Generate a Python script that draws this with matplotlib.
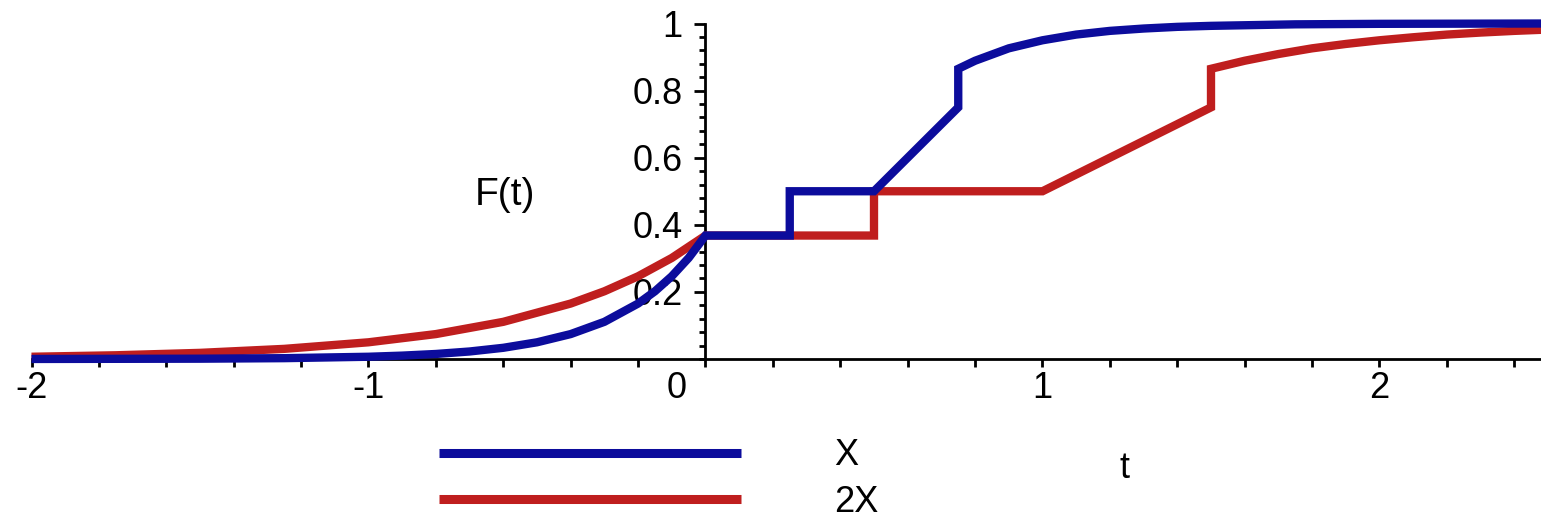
import matplotlib
matplotlib.use("Agg")
import matplotlib.pyplot as plt
from matplotlib.ticker import MultipleLocator, FixedLocator
import matplotlib.transforms as mtransforms

# ---- data ----
t_X = [-2, -1.5, -1.25, -1, -0.9, -0.8, -0.7, -0.6, -0.5, -0.4, -0.3, -0.2, -0.15,
       -0.1, -0.05, 0, 0.25, 0.25, 0.5, 0.75, 0.75, 0.8, 0.9, 1.0, 1.1, 1.2, 1.3,
       1.4, 1.5, 1.75, 2.0, 2.5]
F_X = [0.0001, 0.0009, 0.0025, 0.0067, 0.0101, 0.0150, 0.0224, 0.0334, 0.0498,
       0.0743, 0.1108, 0.1653, 0.2019, 0.2466, 0.3012, 0.368, 0.368, 0.5, 0.5,
       0.75, 0.865, 0.889, 0.926, 0.950, 0.967, 0.978, 0.985, 0.990, 0.993,
       0.9975, 0.999, 1.0]

t_2X = [-2, -1.75, -1.5, -1.25, -1, -0.8, -0.6, -0.4, -0.3, -0.2, -0.1, 0, 0.5,
        0.5, 1.0, 1.5, 1.5, 1.6, 1.7, 1.8, 1.9, 2.0, 2.1, 2.2, 2.3, 2.4, 2.5]
F_2X = [0.0067, 0.0111, 0.0183, 0.0302, 0.0498, 0.0743, 0.1108, 0.1653, 0.2019,
        0.2466, 0.3012, 0.368, 0.368, 0.5, 0.5, 0.75, 0.865, 0.889, 0.909, 0.926,
        0.939, 0.950, 0.959, 0.967, 0.973, 0.978, 0.982]

x_major = [-2, -1, 0, 1, 2]
x_labels = ["-2", "-1", "0", "1", "2"]
y_major = [0.2, 0.4, 0.6, 0.8, 1.0]
y_labels = ["0.2", "0.4", "0.6", "0.8", "1"]
series_labels = ["X", "2X"]
blue = "#0C0C9C"
red = "#BF1E1E"

plt.rcParams["font.family"] = ["Liberation Sans", "DejaVu Sans"]
FS = 26

W, H = 1541, 520
fig = plt.figure(figsize=(W / 100, H / 100), dpi=100)
px_unit_x = 337.0
left_px = 31.5
y0_px, y1_px = 359.0, 23.5
ax = fig.add_axes([left_px / W, (H - y0_px) / H, 4.5 * px_unit_x / W, (y0_px - y1_px) / H])
ax.set_xlim(-2, 2.5)
ax.set_ylim(0, 1)

lw = 6
ax.plot(t_2X, F_2X, color=red, lw=lw, solid_joinstyle="miter", solid_capstyle="butt",
        label=series_labels[1], clip_on=False, zorder=3)
ax.plot(t_X, F_X, color=blue, lw=lw, solid_joinstyle="miter", solid_capstyle="butt",
        label=series_labels[0], clip_on=False, zorder=4)

for s in ["top", "right"]:
    ax.spines[s].set_visible(False)
ax.spines["left"].set_position(("data", 0))
ax.spines["bottom"].set_position(("data", 0))
for s in ["left", "bottom"]:
    ax.spines[s].set_linewidth(2)
    ax.spines[s].set_zorder(2)

ax.xaxis.set_major_locator(FixedLocator(x_major))
ax.set_xticklabels(x_labels)
ax.xaxis.set_minor_locator(MultipleLocator(0.2))
ax.yaxis.set_major_locator(FixedLocator(y_major))
ax.set_yticklabels(y_labels)
ax.yaxis.set_minor_locator(MultipleLocator(0.04))

ax.tick_params(axis="x", which="both", direction="out", length=6, width=2,
               labelsize=FS, pad=3)
ax.tick_params(axis="y", which="major", direction="out", length=8, width=2,
               labelsize=FS, pad=8.5)
ax.tick_params(axis="y", which="minor", direction="out", length=4.5, width=2)

# shift the "0" x label left of the y axis
for lab, val in zip(ax.get_xticklabels(), x_major):
    if val == 0:
        lab.set_transform(lab.get_transform() +
                          mtransforms.ScaledTranslation(-29 / 100, 0, fig.dpi_scale_trans))

ax.text(-0.596, 0.49, "F(t)", fontsize=FS + 2, ha="center", va="center")
ax.text(1.243, -0.325, "t", fontsize=FS, ha="center", va="center", clip_on=False)

handles, labels = ax.get_legend_handles_labels()
order = [labels.index(series_labels[0]), labels.index(series_labels[1])]
leg = ax.legend([handles[i] for i in order], [labels[i] for i in order],
                loc="center left", bbox_to_anchor=(439 / W, 1 - 479 / H),
                bbox_transform=fig.transFigure, frameon=False, fontsize=FS,
                handlelength=8.35, handletextpad=2.6, labelspacing=0.32,
                borderaxespad=0, borderpad=0)
for ln in leg.get_lines():
    ln.set_linewidth(6.5)

fig.savefig("out.png", dpi=100)
